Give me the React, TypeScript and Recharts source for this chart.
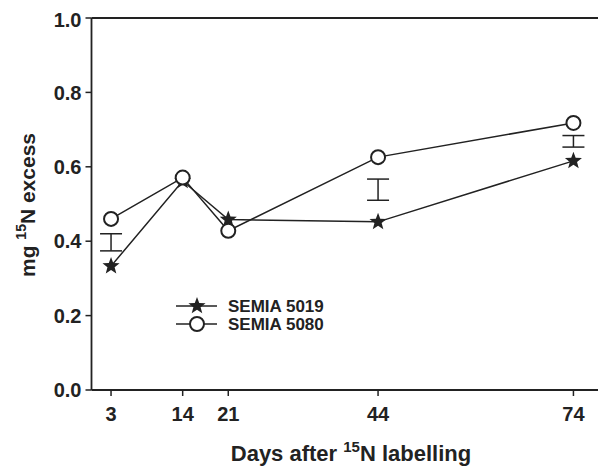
import { ComposedChart, Line, Scatter, ErrorBar, XAxis, YAxis, ReferenceLine } from 'recharts'

const days = [3, 14, 21, 44, 74]
const semia5019 = [0.333, 0.562, 0.458, 0.452, 0.616]
const semia5080 = [0.46, 0.571, 0.428, 0.626, 0.718]
const lsdDays = [3, 44, 74]
const lsdLow = [0.374, 0.51, 0.653]
const lsdHigh = [0.42, 0.567, 0.684]
const yTicks = [0, 0.2, 0.4, 0.6, 0.8, 1.0]
const seriesNames = ['SEMIA 5019', 'SEMIA 5080']

const data = days.map((d, i) => ({ day: d, s5019: semia5019[i], s5080: semia5080[i] }))
const lsd = lsdDays.map((d, i) => ({
  day: d,
  mid: (lsdLow[i] + lsdHigh[i]) / 2,
  err: (lsdHigh[i] - lsdLow[i]) / 2,
}))

const ink = '#222'
const font = '"Liberation Sans", Arial, sans-serif'

function starPoints(cx: number, cy: number, r: number) {
  const pts: string[] = []
  for (let k = 0; k < 10; k++) {
    const rr = k % 2 === 0 ? r : r * 0.42
    const a = -Math.PI / 2 + (k * Math.PI) / 5
    pts.push(`${cx + rr * Math.cos(a)},${cy + rr * Math.sin(a)}`)
  }
  return pts.join(' ')
}

const StarDot = (p: any) => <polygon key={`s${p.index}`} points={starPoints(p.cx, p.cy, 9)} fill={ink} stroke="none" />
const CircleDot = (p: any) => (
  <circle key={`c${p.index}`} cx={p.cx} cy={p.cy} r={7} fill="#fff" stroke={ink} strokeWidth={2} />
)

// legend drawn straight into the svg so it takes no layout space
const LegendSvg = () => (
  <g fontFamily={font} fontWeight="bold" fontSize={17} fill={ink}>
    {seriesNames.map((name, i) => {
      const y = 298 + i * 18
      return (
        <g key={name}>
          <line x1={168} x2={209} y1={y} y2={y} stroke={ink} strokeWidth={1.5} />
          {i === 0 ? (
            <polygon points={starPoints(189, y, 9)} fill={ink} />
          ) : (
            <circle cx={189} cy={y} r={7} fill="#fff" stroke={ink} strokeWidth={2} />
          )}
          <text x={220} y={y + 6}>{name}</text>
        </g>
      )
    })}
  </g>
)

const YLabel = () => (
  <text
    x={27}
    y={197}
    transform="rotate(-90 27 197)"
    textAnchor="middle"
    fontFamily={font}
    fontWeight="bold"
    fontSize={21}
    fill={ink}
  >
    mg{' '}
    <tspan fontSize={14} dy={-9}>15</tspan>
    <tspan dy={9}>N excess</tspan>
  </text>
)

const XLabel = () => (
  <text x={343} y={453} textAnchor="middle" fontFamily={font} fontWeight="bold" fontSize={22} fill={ink}>
    Days after{' '}
    <tspan fontSize={15} dy={-9}>15</tspan>
    <tspan dy={9}>N labelling</tspan>
  </text>
)

export default function App() {
  const tick = { fill: ink, fontFamily: font, fontWeight: 'bold', fontSize: 20 }
  return (
    <ComposedChart width={598} height={458} data={data} margin={{ top: 10, right: 0, bottom: 0, left: 0 }}>
      <XAxis
        dataKey="day"
        type="number"
        domain={[0, 79]}
        ticks={days}
        allowDataOverflow
        tick={tick}
        tickSize={6}
        tickMargin={11}
        axisLine={{ stroke: ink, strokeWidth: 1.8 }}
        tickLine={{ stroke: ink, strokeWidth: 1.5 }}
        height={76}
      />
      <YAxis
        type="number"
        domain={[0, 1]}
        ticks={yTicks}
        tickFormatter={(v) => v.toFixed(1)}
        tick={tick}
        tickSize={6}
        tickMargin={4}
        axisLine={{ stroke: ink, strokeWidth: 1.8 }}
        tickLine={{ stroke: ink, strokeWidth: 1.5 }}
        width={83.5}
      />
      <ReferenceLine y={1} stroke={ink} strokeWidth={1.8} />
      <Line
        dataKey="s5019"
        stroke={ink}
        strokeWidth={1.5}
        dot={StarDot}
        activeDot={false}
        isAnimationActive={false}
      />
      <Line
        dataKey="s5080"
        stroke={ink}
        strokeWidth={1.5}
        dot={CircleDot}
        activeDot={false}
        isAnimationActive={false}
      />
      <Scatter data={lsd} dataKey="mid" shape={() => <g />} isAnimationActive={false}>
        <ErrorBar dataKey="err" direction="y" width={11} stroke={ink} strokeWidth={1.5} />
      </Scatter>
      <LegendSvg />
      <YLabel />
      <XLabel />
    </ComposedChart>
  )
}
